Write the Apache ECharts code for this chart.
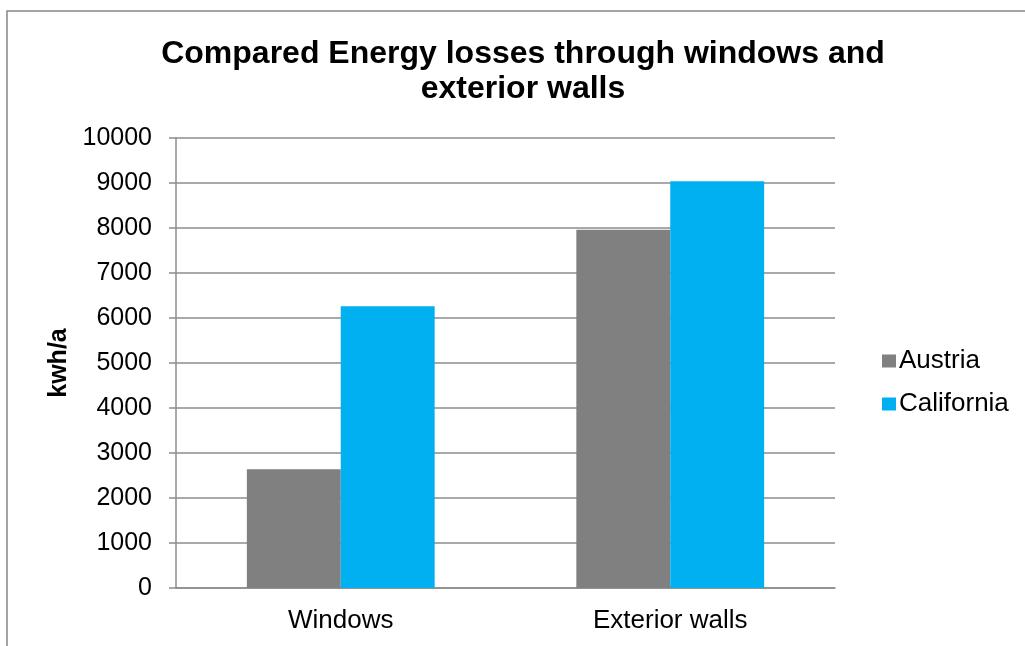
<!DOCTYPE html>
<html>
<head>
<meta charset="utf-8">
<script src="https://cdn.jsdelivr.net/npm/echarts@6/dist/echarts.min.js"></script>
<style>
  html, body { margin: 0; padding: 0; background: #fff; }
  #chart { width: 1025px; height: 646px; }
</style>
</head>
<body>
<div id="chart"></div>
<script>
// Energy losses per building element, kWh per year
const categories = ['Windows', 'Exterior walls'];
const austria = [2640, 7960];
const california = [6260, 9040];
const yTicks = { min: 0, max: 10000, interval: 1000 };

const FONT = '"Liberation Sans", Arial, sans-serif';
const GRID = '#8c8c8c';

const chart = echarts.init(document.getElementById('chart'), null, { renderer: 'canvas' });
chart.setOption({
  animation: false,
  backgroundColor: '#fff',
  textStyle: { fontFamily: FONT },
  title: {
    text: 'Compared Energy losses through windows and\nexterior walls',
    left: 523,
    top: 37,
    padding: 0,
    textAlign: 'center',
    textStyle: { fontFamily: FONT, fontSize: 32, fontWeight: 'bold', color: '#000', lineHeight: 35 }
  },
  graphic: [{
    type: 'rect',
    shape: { x: 7, y: 11, width: 1100, height: 700 },
    style: { fill: 'none', stroke: '#868686', lineWidth: 1.5 },
    silent: true
  }],
  legend: {
    orient: 'vertical',
    left: 877,
    top: 343,
    itemWidth: 14,
    itemHeight: 13,
    itemGap: 17,
    icon: 'rect',
    textStyle: { fontFamily: FONT, fontSize: 26, color: '#000', padding: [0, 0, 0, -2] },
    data: ['Austria', 'California']
  },
  grid: { left: 176, right: 190, top: 138, bottom: 58, containLabel: false },
  xAxis: {
    type: 'category',
    data: categories,
    axisLine: { lineStyle: { color: GRID, width: 1.5 } },
    axisTick: { show: false },
    axisLabel: { fontFamily: FONT, fontSize: 26, color: '#000', margin: 20 }
  },
  yAxis: {
    type: 'value',
    min: yTicks.min,
    max: yTicks.max,
    interval: yTicks.interval,
    name: 'kwh/a',
    nameLocation: 'middle',
    nameRotate: 90,
    nameGap: 100,
    nameTextStyle: { fontFamily: FONT, fontSize: 25, fontWeight: 'bold', color: '#000' },
    axisLine: { show: true, lineStyle: { color: GRID, width: 1.5 } },
    axisTick: { show: true, length: 7, lineStyle: { color: GRID, width: 1.5 } },
    axisLabel: {
      fontFamily: FONT, fontSize: 25, color: '#000', margin: 24,
      formatter: v => String(v)
    },
    splitLine: { lineStyle: { color: GRID, width: 1.5 } }
  },
  series: [
    {
      name: 'Austria', type: 'bar', data: austria,
      itemStyle: { color: '#808080' },
      barGap: '0%', barCategoryGap: '43%'
    },
    {
      name: 'California', type: 'bar', data: california,
      itemStyle: { color: '#00B0F0' },
      barGap: '0%', barCategoryGap: '43%'
    }
  ]
});
</script>
</body>
</html>
